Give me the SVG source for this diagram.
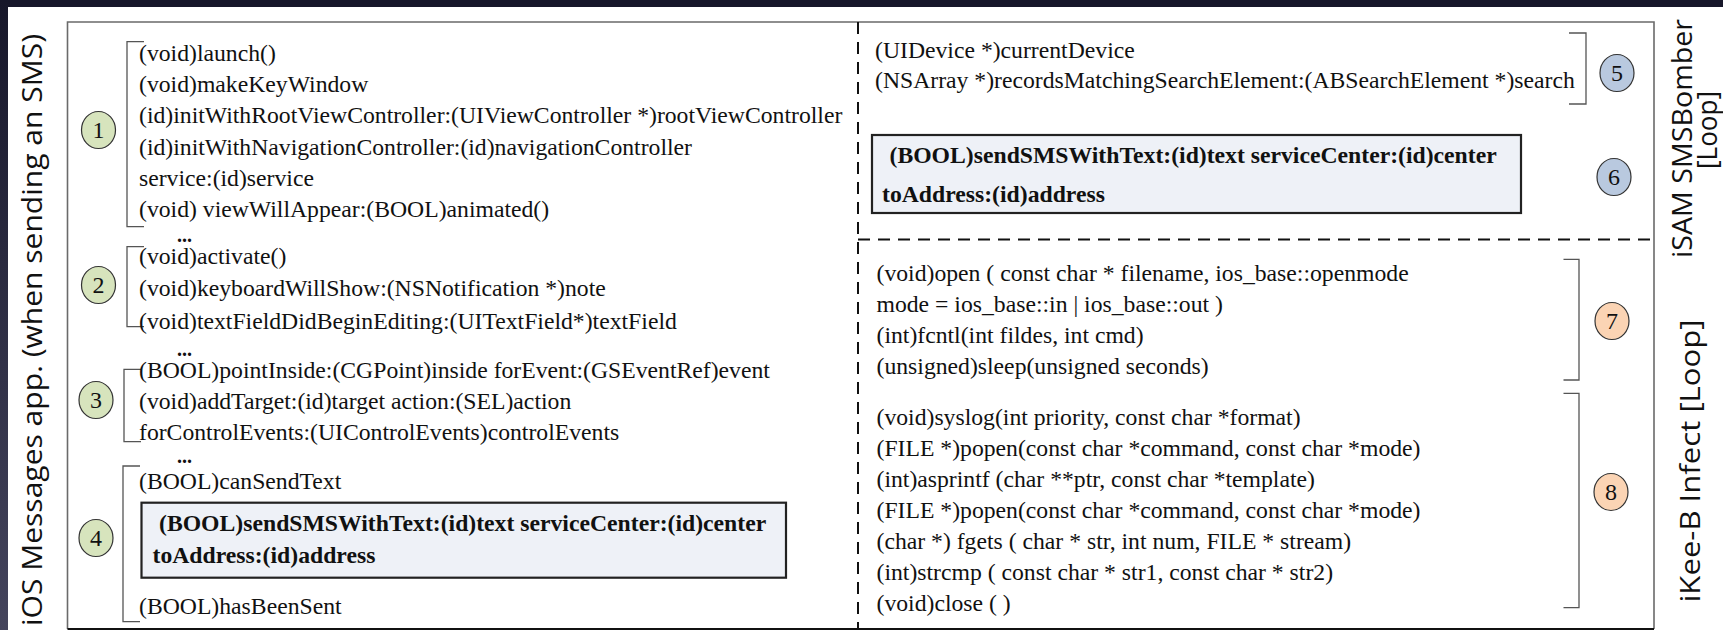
<svg xmlns="http://www.w3.org/2000/svg" width="1723" height="630" viewBox="0 0 1723 630">
  <defs>
    <linearGradient id="edge" x1="0" y1="0" x2="0" y2="1">
      <stop offset="0" stop-color="#17172a"/>
      <stop offset="1" stop-color="#44445c"/>
    </linearGradient>
    <style>
      .m { font-family: "Liberation Serif", "Times New Roman", serif; font-size: 23.7px; fill: #111; }
      .b { font-weight: bold; }
      .dots { font-family: "Liberation Serif", "Times New Roman", serif; font-size: 20px; font-weight: bold; fill: #111; }
      .br { fill: none; stroke: #555; stroke-width: 1.3; }
      .num { font-family: "Liberation Serif", "Times New Roman", serif; font-size: 24px; text-anchor: middle; fill: #111; }
      .green { fill: #d7e4bd; stroke: #333; stroke-width: 1.2; }
      .blue { fill: #b9c9df; stroke: #333; stroke-width: 1.2; }
      .orange { fill: #fbd4b4; stroke: #333; stroke-width: 1.2; }
      .call { fill: #eef1f7; stroke: #222; stroke-width: 2.2; }
      .dash { fill: none; stroke: #111; stroke-width: 2; stroke-dasharray: 12 8; }
      .side { font-family: "Open Sans", "DejaVu Sans", sans-serif; font-size: 27px; fill: #111; text-anchor: middle; }
    </style>
  </defs>

  <!-- slide background with dark edges -->
  <rect x="0" y="0" width="1723" height="630" fill="#17172a"/>
  <rect x="0" y="0" width="8" height="630" fill="url(#edge)"/>
  <rect x="8" y="7" width="1715" height="623" fill="#ffffff"/>

  <!-- outer frame -->
  <g id="frame">
    <path d="M67.5 629 V22 H1654 V629" fill="none" stroke="#6a6a6a" stroke-width="1.6"/>
    <path d="M67.5 629 H1654" fill="none" stroke="#111" stroke-width="2"/>
  </g>

  <!-- section separators -->
  <g id="separators">
    <path class="dash" d="M858 22 V629"/>
    <path class="dash" d="M858 239.5 H1654"/>
  </g>

  <!-- side titles -->
  <g id="titles">
    <text class="side" transform="translate(42 330) rotate(-90)" textLength="592" lengthAdjust="spacingAndGlyphs">iOS Messages app. (when sending an SMS)</text>
    <text class="side" transform="translate(1692 138.5) rotate(-90)" textLength="239" lengthAdjust="spacingAndGlyphs">iSAM SMSBomber</text>
    <text class="side" transform="translate(1717 130) rotate(-90)" textLength="78" lengthAdjust="spacingAndGlyphs">[Loop]</text>
    <text class="side" transform="translate(1700 461) rotate(-90)" textLength="283" lengthAdjust="spacingAndGlyphs">iKee-B Infect [Loop]</text>
  </g>

  <!-- step 1 -->
  <g id="step1">
    <path class="br" d="M144 41.7 H127 V226.7 H144"/>
    <ellipse class="green" cx="98.5" cy="130" rx="17" ry="18.5"/>
    <text class="num" x="98.5" y="138">1</text>
    <text class="m" x="139" y="61">(void)launch()</text>
    <text class="m" x="139" y="92.2">(void)makeKeyWindow</text>
    <text class="m" x="139" y="123.4">(id)initWithRootViewController:(UIViewController *)rootViewController</text>
    <text class="m" x="139" y="154.6">(id)initWithNavigationController:(id)navigationController</text>
    <text class="m" x="139" y="185.8">service:(id)service</text>
    <text class="m" x="139" y="217">(void) viewWillAppear:(BOOL)animated()</text>
    <text class="dots" x="177" y="242">...</text>
  </g>

  <!-- step 2 -->
  <g id="step2">
    <path class="br" d="M144 246.7 H127 V326.7 H144"/>
    <ellipse class="green" cx="98.5" cy="285" rx="17" ry="18.5"/>
    <text class="num" x="98.5" y="293">2</text>
    <text class="m" x="139" y="264">(void)activate()</text>
    <text class="m" x="139" y="296">(void)keyboardWillShow:(NSNotification *)note</text>
    <text class="m" x="139" y="328.5">(void)textFieldDidBeginEditing:(UITextField*)textField</text>
    <text class="dots" x="177" y="355.5">...</text>
  </g>

  <!-- step 3 -->
  <g id="step3">
    <path class="br" d="M141 369.3 H124 V441.7 H141"/>
    <ellipse class="green" cx="96" cy="400" rx="17" ry="18.5"/>
    <text class="num" x="96" y="408">3</text>
    <text class="m" x="139" y="377.5">(BOOL)pointInside:(CGPoint)inside forEvent:(GSEventRef)event</text>
    <text class="m" x="139" y="408.5">(void)addTarget:(id)target action:(SEL)action</text>
    <text class="m" x="139" y="439.5">forControlEvents:(UIControlEvents)controlEvents</text>
    <text class="dots" x="177" y="463">...</text>
  </g>

  <!-- step 4 -->
  <g id="step4">
    <path class="br" d="M140 466 H123 V621.7 H140"/>
    <ellipse class="green" cx="96" cy="538" rx="17" ry="18.5"/>
    <text class="num" x="96" y="546">4</text>
    <text class="m" x="139" y="489">(BOOL)canSendText</text>
    <rect class="call" x="141.5" y="502.7" width="644.5" height="75"/>
    <text class="m b" x="159" y="531">(BOOL)sendSMSWithText:(id)text serviceCenter:(id)center</text>
    <text class="m b" x="152.5" y="563">toAddress:(id)address</text>
    <text class="m" x="139" y="614">(BOOL)hasBeenSent</text>
  </g>

  <!-- step 5 -->
  <g id="step5">
    <path class="br" d="M1569 33 H1586 V104 H1569"/>
    <ellipse class="blue" cx="1617" cy="73" rx="17" ry="18.5"/>
    <text class="num" x="1617" y="81">5</text>
    <text class="m" x="875" y="58">(UIDevice *)currentDevice</text>
    <text class="m" x="875" y="88">(NSArray *)recordsMatchingSearchElement:(ABSearchElement *)search</text>
  </g>

  <!-- step 6 -->
  <g id="step6">
    <rect class="call" x="872" y="135" width="649" height="78"/>
    <text class="m b" x="889.5" y="163">(BOOL)sendSMSWithText:(id)text serviceCenter:(id)center</text>
    <text class="m b" x="882" y="202">toAddress:(id)address</text>
    <ellipse class="blue" cx="1614" cy="177" rx="17" ry="18.5"/>
    <text class="num" x="1614" y="185">6</text>
  </g>

  <!-- step 7 -->
  <g id="step7">
    <path class="br" d="M1563.5 259.3 H1579 V380 H1563.5"/>
    <ellipse class="orange" cx="1612" cy="321" rx="17" ry="18.5"/>
    <text class="num" x="1612" y="329">7</text>
    <text class="m" x="876.5" y="281">(void)open ( const char * filename, ios_base::openmode</text>
    <text class="m" x="876.5" y="312">mode = ios_base::in | ios_base::out )</text>
    <text class="m" x="876.5" y="343">(int)fcntl(int fildes, int cmd)</text>
    <text class="m" x="876.5" y="374">(unsigned)sleep(unsigned seconds)</text>
  </g>

  <!-- step 8 -->
  <g id="step8">
    <path class="br" d="M1563.5 393.3 H1579 V607.7 H1563.5"/>
    <ellipse class="orange" cx="1611" cy="492" rx="17" ry="18.5"/>
    <text class="num" x="1611" y="500">8</text>
    <text class="m" x="876.5" y="424.5">(void)syslog(int priority, const char *format)</text>
    <text class="m" x="876.5" y="455.5">(FILE *)popen(const char *command, const char *mode)</text>
    <text class="m" x="876.5" y="486.5">(int)asprintf (char **ptr, const char *template)</text>
    <text class="m" x="876.5" y="517.5">(FILE *)popen(const char *command, const char *mode)</text>
    <text class="m" x="876.5" y="548.5">(char *) fgets ( char * str, int num, FILE * stream)</text>
    <text class="m" x="876.5" y="579.5">(int)strcmp ( const char * str1, const char * str2)</text>
    <text class="m" x="876.5" y="610.5">(void)close ( )</text>
  </g>
</svg>
